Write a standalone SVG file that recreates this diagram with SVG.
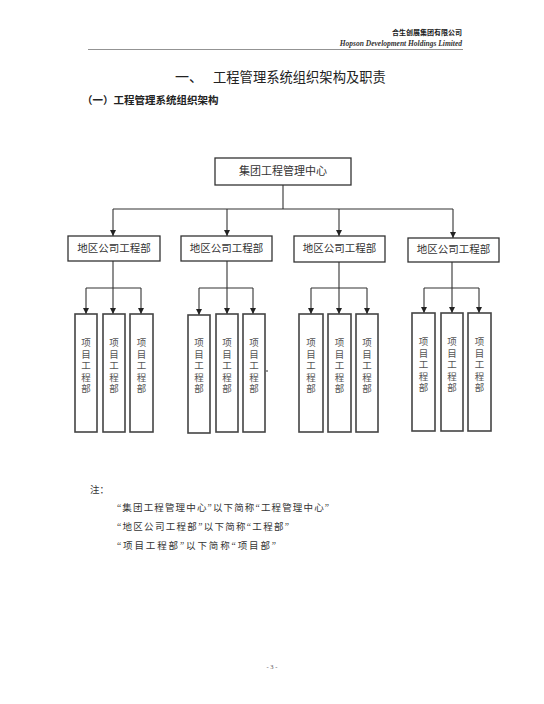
<svg xmlns="http://www.w3.org/2000/svg" width="544" height="704" viewBox="0 0 544 704">
<style>
text{font-family:"Liberation Serif","Noto Sans CJK SC",serif;fill:#222}
.box{fill:#fff;stroke:#333;stroke-width:1.3}
.vbox{fill:#fff;stroke:#444;stroke-width:1.6}
.ln{fill:none;stroke:#333;stroke-width:1.1}
.t1{font-size:11px;text-anchor:middle;fill:#333}
.t2{font-size:10.5px;text-anchor:middle;fill:#333}
.tv{font-size:9.5px;text-anchor:middle;fill:#555}
.note{font-size:9.5px;fill:#333}
</style>
<defs>
<marker id="ar" viewBox="0 0 10 10" refX="10" refY="5" markerWidth="6" markerHeight="6" markerUnits="userSpaceOnUse" orient="auto">
<path d="M0,0 L10,5 L0,10 z" fill="#222"/>
</marker>
</defs>
<rect width="544" height="704" fill="#fff"/>
<g id="header">
<text x="462" y="35" style="font-size:7px;font-weight:bold;text-anchor:end">合生创展集团有限公司</text>
<text x="462" y="46" style="font-size:7.5px;font-style:italic;font-weight:bold;text-anchor:end;fill:#333">Hopson Development Holdings Limited</text>
<line x1="88" y1="49.5" x2="463" y2="49.5" stroke="#777" stroke-width="0.8"/>
</g>
<g id="title">
<text x="175" y="82" style="font-size:14px">一、</text>
<text x="213" y="82" style="font-size:13.3px">工程管理系统组织架构及职责</text>
<text x="82" y="104" style="font-size:10.5px;font-weight:bold">（一）工程管理系统组织架构</text>
</g>
<g id="connectors">
<path class="ln" d="M283,185 V209 M113,209 H453"/>
<path class="ln" d="M113,209 V236" marker-end="url(#ar)"/>
<path class="ln" d="M227,209 V236" marker-end="url(#ar)"/>
<path class="ln" d="M339,209 V236" marker-end="url(#ar)"/>
<path class="ln" d="M453,209 V238" marker-end="url(#ar)"/>
<path class="ln" d="M113,261 V288 M86,288 H141"/>
<path class="ln" d="M86,288 V314" marker-end="url(#ar)"/>
<path class="ln" d="M113,288 V314" marker-end="url(#ar)"/>
<path class="ln" d="M141,288 V314" marker-end="url(#ar)"/>
<path class="ln" d="M227,261 V288 M199,288 H253"/>
<path class="ln" d="M199,288 V315" marker-end="url(#ar)"/>
<path class="ln" d="M227,288 V314" marker-end="url(#ar)"/>
<path class="ln" d="M253,288 V314" marker-end="url(#ar)"/>
<path class="ln" d="M339,262 V288 M311,288 H367"/>
<path class="ln" d="M311,288 V314" marker-end="url(#ar)"/>
<path class="ln" d="M339,288 V314" marker-end="url(#ar)"/>
<path class="ln" d="M367,288 V314" marker-end="url(#ar)"/>
<path class="ln" d="M452,262 V288 M424,288 H479"/>
<path class="ln" d="M424,288 V313" marker-end="url(#ar)"/>
<path class="ln" d="M452,288 V313" marker-end="url(#ar)"/>
<path class="ln" d="M479,288 V313" marker-end="url(#ar)"/>
<line x1="266" y1="371" x2="268" y2="371" stroke="#333" stroke-width="1.2"/>
</g>
<g id="center">
<rect class="box" x="215" y="158" width="136" height="27"/>
<text class="t1" x="283" y="175">集团工程管理中心</text>
</g>
<g id="dept1"><rect class="box" x="68" y="236" width="92" height="25"/><text class="t2" x="114" y="252">地区公司工程部</text></g>
<g id="dept2"><rect class="box" x="181" y="236" width="91" height="25"/><text class="t2" x="226.5" y="252">地区公司工程部</text></g>
<g id="dept3"><rect class="box" x="294" y="236" width="91" height="26"/><text class="t2" x="339.5" y="252">地区公司工程部</text></g>
<g id="dept4"><rect class="box" x="408" y="238" width="91" height="24"/><text class="t2" x="453.5" y="253">地区公司工程部</text></g>
<g id="proj1a"><rect class="vbox" x="75" y="314" width="22" height="118"/><text class="tv" x="86"><tspan x="86" y="346">项</tspan><tspan x="86" y="357.5">目</tspan><tspan x="86" y="369">工</tspan><tspan x="86" y="380.5">程</tspan><tspan x="86" y="392">部</tspan></text></g>
<g id="proj1b"><rect class="vbox" x="103" y="314" width="22" height="118"/><text class="tv" x="114"><tspan x="114" y="346">项</tspan><tspan x="114" y="357.5">目</tspan><tspan x="114" y="369">工</tspan><tspan x="114" y="380.5">程</tspan><tspan x="114" y="392">部</tspan></text></g>
<g id="proj1c"><rect class="vbox" x="130" y="314" width="23" height="118"/><text class="tv" x="141.5"><tspan x="141.5" y="346">项</tspan><tspan x="141.5" y="357.5">目</tspan><tspan x="141.5" y="369">工</tspan><tspan x="141.5" y="380.5">程</tspan><tspan x="141.5" y="392">部</tspan></text></g>
<g id="proj2a"><rect class="vbox" x="188" y="315" width="22" height="118"/><text class="tv" x="199"><tspan x="199" y="346">项</tspan><tspan x="199" y="357.5">目</tspan><tspan x="199" y="369">工</tspan><tspan x="199" y="380.5">程</tspan><tspan x="199" y="392">部</tspan></text></g>
<g id="proj2b"><rect class="vbox" x="216" y="314" width="22" height="118"/><text class="tv" x="227"><tspan x="227" y="346">项</tspan><tspan x="227" y="357.5">目</tspan><tspan x="227" y="369">工</tspan><tspan x="227" y="380.5">程</tspan><tspan x="227" y="392">部</tspan></text></g>
<g id="proj2c"><rect class="vbox" x="243" y="314" width="22" height="118"/><text class="tv" x="254"><tspan x="254" y="346">项</tspan><tspan x="254" y="357.5">目</tspan><tspan x="254" y="369">工</tspan><tspan x="254" y="380.5">程</tspan><tspan x="254" y="392">部</tspan></text></g>
<g id="proj3a"><rect class="vbox" x="299" y="314" width="24" height="118"/><text class="tv" x="311"><tspan x="311" y="346">项</tspan><tspan x="311" y="357.5">目</tspan><tspan x="311" y="369">工</tspan><tspan x="311" y="380.5">程</tspan><tspan x="311" y="392">部</tspan></text></g>
<g id="proj3b"><rect class="vbox" x="328" y="314" width="23" height="118"/><text class="tv" x="339.5"><tspan x="339.5" y="346">项</tspan><tspan x="339.5" y="357.5">目</tspan><tspan x="339.5" y="369">工</tspan><tspan x="339.5" y="380.5">程</tspan><tspan x="339.5" y="392">部</tspan></text></g>
<g id="proj3c"><rect class="vbox" x="356" y="314" width="22" height="118"/><text class="tv" x="367"><tspan x="367" y="346">项</tspan><tspan x="367" y="357.5">目</tspan><tspan x="367" y="369">工</tspan><tspan x="367" y="380.5">程</tspan><tspan x="367" y="392">部</tspan></text></g>
<g id="proj4a"><rect class="vbox" x="412" y="313" width="23" height="118"/><text class="tv" x="423.5"><tspan x="423.5" y="345">项</tspan><tspan x="423.5" y="356.5">目</tspan><tspan x="423.5" y="368">工</tspan><tspan x="423.5" y="379.5">程</tspan><tspan x="423.5" y="391">部</tspan></text></g>
<g id="proj4b"><rect class="vbox" x="441" y="313" width="22" height="118"/><text class="tv" x="452"><tspan x="452" y="345">项</tspan><tspan x="452" y="356.5">目</tspan><tspan x="452" y="368">工</tspan><tspan x="452" y="379.5">程</tspan><tspan x="452" y="391">部</tspan></text></g>
<g id="proj4c"><rect class="vbox" x="468" y="313" width="23" height="118"/><text class="tv" x="479.5"><tspan x="479.5" y="345">项</tspan><tspan x="479.5" y="356.5">目</tspan><tspan x="479.5" y="368">工</tspan><tspan x="479.5" y="379.5">程</tspan><tspan x="479.5" y="391">部</tspan></text></g>
<g id="notes">
<text class="note" x="90" y="493">注：</text>
<text class="note" x="117" y="511" textLength="212" lengthAdjust="spacing">“集团工程管理中心”以下简称“工程管理中心”</text>
<text class="note" x="117" y="530" textLength="172" lengthAdjust="spacing">“地区公司工程部”以下简称“工程部”</text>
<text class="note" x="117" y="549" textLength="159" lengthAdjust="spacing">“项目工程部”以下简称“项目部”</text>
</g>
<g id="footer"><text x="272" y="669" style="font-size:6.5px;text-anchor:middle;fill:#555">- 3 -</text></g>
</svg>
